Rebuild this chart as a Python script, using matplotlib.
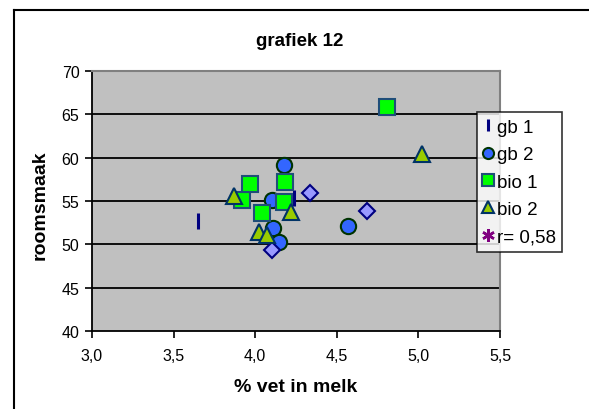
import matplotlib
matplotlib.use("Agg")
import matplotlib.pyplot as plt
from matplotlib.lines import Line2D
from matplotlib.ticker import FuncFormatter

plt.rcParams['font.family'] = ['Liberation Sans', 'DejaVu Sans']

# Data
gb1_x = [3.65, 4.20, 4.24]
gb1_y = [52.7, 53.8, 55.4]
gb2_x = [4.175, 4.10, 4.107, 4.144, 4.567]
gb2_y = [59.2, 55.1, 51.9, 50.3, 52.1]
bio1_x = [3.92, 3.97, 4.04, 4.185, 4.178, 4.81]
bio1_y = [55.1, 57.0, 53.6, 57.2, 54.9, 65.8]
bio2_x = [3.87, 4.22, 4.025, 4.074, 5.02]
bio2_y = [55.6, 53.7, 51.4, 51.1, 60.4]
extra_x = [4.336, 4.10, 4.687]
extra_y = [55.9, 49.4, 53.8]
x_ticks = [3.0, 3.5, 4.0, 4.5, 5.0, 5.5]
y_ticks = [40, 45, 50, 55, 60, 65, 70]

W, H = 589, 410
fig = plt.figure(figsize=(W / 100, H / 100), dpi=100)
ax = fig.add_axes([92 / W, 1 - 332 / H, (500 - 92) / W, (332 - 72) / H])
ax.set_facecolor('#C0C0C0')
ax.set_xlim(3.0, 5.5)
ax.set_ylim(40, 70)
ax.set_xticks(x_ticks)
ax.set_yticks(y_ticks)
ax.xaxis.set_major_formatter(FuncFormatter(lambda v, p: f"{v:.1f}".replace('.', ',')))
ax.yaxis.set_major_formatter(FuncFormatter(lambda v, p: f"{int(v)}"))
ax.tick_params(direction='out', length=5, width=1.2, labelsize=11.5, colors='black', pad=4)
ax.tick_params(axis='x', pad=7)
for yv in y_ticks[1:-1]:
    ax.axhline(yv, color='black', lw=1.3, zorder=1)
for s in ['left', 'bottom']:
    ax.spines[s].set_color('black')
    ax.spines[s].set_linewidth(1.3)
for s in ['top', 'right']:
    ax.spines[s].set_color('#808080')
    ax.spines[s].set_linewidth(1.5)

ax.plot(gb1_x, gb1_y, ls='none', marker='|', ms=12, mew=2.2, color='#000080', zorder=3)
ax.plot(gb2_x, gb2_y, ls='none', marker='o', ms=11, mfc='#3366FF', mec='#003300', mew=1.5, zorder=3)
ax.plot(bio1_x, bio1_y, ls='none', marker='s', ms=12, mfc='#00FF00', mec='#1F4E79', mew=1.5, zorder=4)
ax.plot(bio2_x, bio2_y, ls='none', marker='^', ms=11, mfc='#99CC00', mec='#003366', mew=1.5, zorder=5)
ax.plot(extra_x, extra_y, ls='none', marker='D', ms=8, mfc='#9999FF', mec='#000080', mew=1.5, zorder=3)

fig.text(296 / W, 1 - 388 / H, '% vet in melk', ha='center', va='center', fontsize=14, fontweight='bold')
fig.text(40 / W, 1 - 205 / H, 'roomsmaak', ha='center', va='center', rotation=90, fontsize=14, fontweight='bold')
fig.text(300 / W, 1 - 42 / H, 'grafiek 12', ha='center', va='center', fontsize=13.5, fontweight='bold')

handles = [
    Line2D([], [], ls='none', marker='|', ms=9, mew=2.2, color='#000080'),
    Line2D([], [], ls='none', marker='o', ms=8, mfc='#3366FF', mec='#003300', mew=1.5),
    Line2D([], [], ls='none', marker='s', ms=9, mfc='#00FF00', mec='#1F4E79', mew=1.5),
    Line2D([], [], ls='none', marker='^', ms=9, mfc='#99CC00', mec='#003366', mew=1.5),
    Line2D([], [], ls='none', marker=(6, 2, 0), ms=9, mew=1.8, color='#800080'),
]
labels = ['gb 1', 'gb 2', 'bio 1', 'bio 2', 'r= 0,58']
leg = fig.legend(handles, labels, loc='lower left', bbox_to_anchor=(477 / W, 1 - 253 / H),
                 frameon=True, fancybox=False, fontsize=13.5, handlelength=0.5,
                 handletextpad=0.2, labelspacing=0.55, borderpad=0.35, borderaxespad=0)
leg.get_frame().set_edgecolor('black')
leg.get_frame().set_linewidth(1.2)
leg.get_frame().set_facecolor('white')

# chart area border (left and top visible)
fig.add_artist(Line2D([14 / W, 14 / W], [0, 1 - 11 / H], color='black', lw=1.5, transform=fig.transFigure))
fig.add_artist(Line2D([14 / W, 1], [1 - 11 / H, 1 - 11 / H], color='black', lw=1.5, transform=fig.transFigure))

fig.savefig('out.png', dpi=100)
